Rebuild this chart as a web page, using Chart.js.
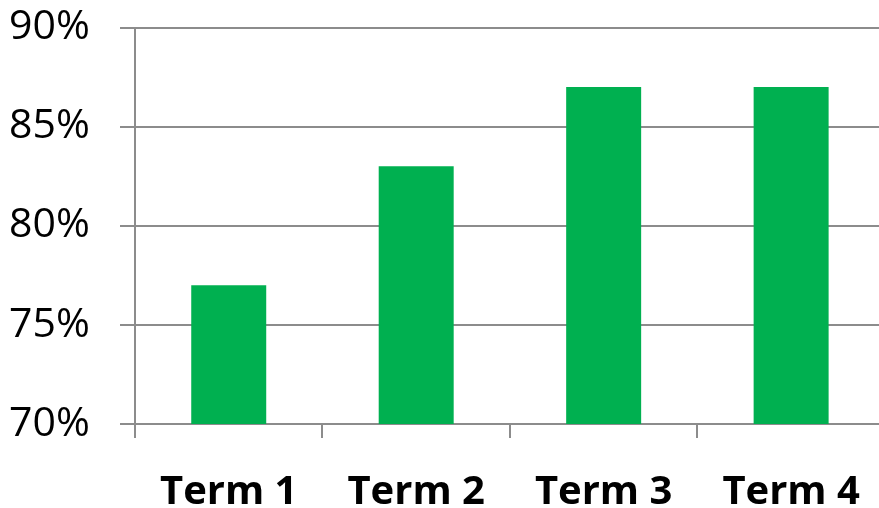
<!DOCTYPE html>
<html>
<head>
<meta charset="utf-8">
<script src="https://cdn.jsdelivr.net/npm/chart.js@4/dist/chart.umd.min.js"></script>
<style>
  html, body { margin: 0; padding: 0; background: #fff; overflow: hidden; }
  #wrap { width: 879px; height: 508px; overflow: hidden; }
</style>
</head>
<body>
<div id="wrap"><canvas id="termChart" width="891" height="508"></canvas></div>
<script>
// Datos del gráfico
const terms = ['Term 1', 'Term 2', 'Term 3', 'Term 4'];
const scores = [77, 83, 87, 87];
const yTicks = [70, 75, 80, 85, 90];

document.addEventListener('DOMContentLoaded', function () {
    const ctx = document.getElementById('termChart');
    new Chart(ctx, {
        type: 'bar',
        data: {
            labels: terms,
            datasets: [{
                data: scores,
                backgroundColor: '#00B050',
                barPercentage: 0.4,
                categoryPercentage: 1
            }]
        },
        options: {
            responsive: false,
            animation: false,
            layout: { padding: { left: 9, top: 4, right: 1, bottom: 0 } },
            plugins: { legend: { display: false }, tooltip: { enabled: false } },
            scales: {
                x: {
                    afterFit: function (scale) { scale.height = 84; },
                    grid: { drawOnChartArea: false, drawTicks: true, tickLength: 14, color: '#8c8c8c', lineWidth: 2, offset: true },
                    border: { color: '#8c8c8c', width: 2 },
                    ticks: {
                        color: '#000',
                        padding: 31,
                        font: { family: 'Open Sans', size: 40, weight: 'bold' }
                    }
                },
                y: {
                    min: yTicks[0],
                    max: yTicks[yTicks.length - 1],
                    afterFit: function (scale) { scale.width = 126; },
                    afterBuildTicks: function (scale) {
                        scale.ticks = yTicks.map(function (v) { return { value: v }; });
                    },
                    grid: { color: '#8c8c8c', lineWidth: 2, tickLength: 15 },
                    border: { color: '#8c8c8c', width: 2 },
                    ticks: {
                        color: '#000',
                        crossAlign: 'far',
                        font: { family: 'Open Sans', size: 41 },
                        callback: function (v) { return v + '%'; }
                    }
                }
            }
        }
    });
});
</script>
</body>
</html>
